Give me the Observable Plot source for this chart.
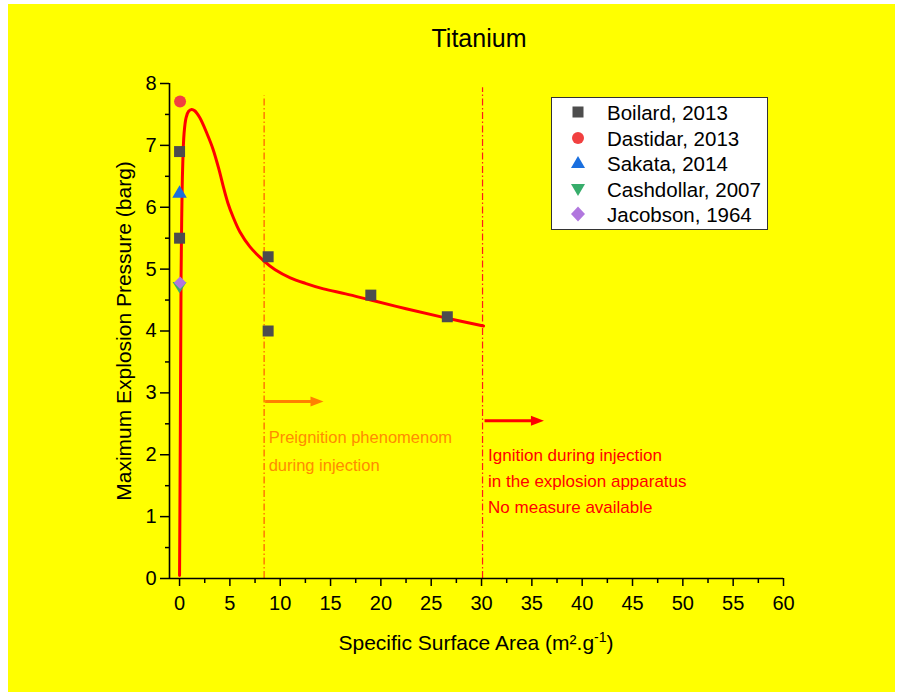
<!DOCTYPE html>
<html>
<head>
<meta charset="utf-8">
<script src="https://cdn.jsdelivr.net/npm/d3@7"></script>
<script src="https://cdn.jsdelivr.net/npm/@observablehq/plot@0.6"></script>
<style>
  html, body { margin: 0; padding: 0; background: #ffffff; width: 900px; height: 692px; overflow: hidden; }
  body { font-family: "Liberation Sans", Arial, Helvetica, sans-serif; position: relative; }
  #bg { position: absolute; left: 8px; top: 4px; width: 887px; height: 688px; background: #ffff00; }
  #chart { position: absolute; left: 0; top: 0; }
  #title { position: absolute; left: 329px; width: 300px; top: 23px; text-align: center; font-size: 25px; line-height: 30px; color: #000; }
  #xlabel { position: absolute; left: 226px; width: 500px; top: 630px; text-align: center; font-size: 21px; line-height: 26px; color: #000; }
  #xlabel sup { font-size: 14px; vertical-align: 8px; line-height: 0; }
  #legend { position: absolute; left: 551px; top: 97px; width: 215px; height: 131px; background: #fff; border: 1px solid #333; }
  .li { position: absolute; left: 0; height: 25px; width: 215px; font-size: 20.5px; line-height: 25px; color: #000; }
  .li svg { position: absolute; left: 16px; top: 2px; }
  .li span { position: absolute; left: 55px; top: 0; white-space: nowrap; }
</style>
</head>
<body>
<div id="bg"></div>
<div id="chart"></div>
<div id="title">Titanium</div>
<div id="xlabel">Specific Surface Area (m².g<sup>-1</sup>)</div>
<div id="legend"></div>
<script>
// ---- data ----
const boilardX = [0, 0, 8.8, 8.8, 19.0, 26.6];
const boilardY = [6.9, 5.5, 5.2, 4.0, 4.58, 4.23];
const dastidarX = [0.05];
const dastidarY = [7.71];
const sakataX = [0];
const sakataY = [6.22];
const cashdollarX = [0];
const cashdollarY = [4.73];
const jacobsonX = [0.05];
const jacobsonY = [4.78];

// red fitted curve
const fitX = [0.0, 0.08, 0.15, 0.22, 0.3, 0.45, 0.65, 0.9, 1.2, 1.5, 2.0, 2.75, 3.3, 3.9, 4.4, 4.8, 5.3, 6.0, 7.0, 8.4, 9.5, 11.0, 12.5, 14.3, 16.5, 19.0, 22.5, 26.2, 30.2];
const fitY = [0.05, 2.5, 4.9, 5.9, 6.6, 7.2, 7.45, 7.55, 7.58, 7.56, 7.45, 7.18, 6.95, 6.62, 6.3, 6.07, 5.85, 5.6, 5.36, 5.13, 4.99, 4.86, 4.77, 4.68, 4.6, 4.5, 4.36, 4.22, 4.08];

// vertical dash-dot boundaries
const boundX = [8.4, 30.1];
const boundTop = [7.8, 7.93];
const boundColor = ["#ff5a00", "#ff1a1a"];

// arrows
const arrowX1 = [8.5, 30.3];
const arrowX2 = [14.3, 36.2];
const arrowY = [2.86, 2.55];
const arrowColor = ["#ff8000", "#ff0000"];

// annotations
const noteX = [8.85, 8.85, 30.65, 30.65, 30.65];
const noteY = [2.27, 1.83, 1.99, 1.57, 1.15];
const noteText = ["Preignition phenomenom", "during injection", "Ignition during injection", "in the explosion apparatus", "No measure available"];
const noteColor = ["#ff8c00", "#ff8c00", "#ff0000", "#ff0000", "#ff0000"];
const noteSize = [16.5, 16.5, 17, 17, 17];

// axis ticks
const xTicks = d3.range(0, 61, 5);
const xMinor = d3.range(2.5, 60, 5);
const yTicks = d3.range(0, 9, 1);
const yMinor = d3.range(0.5, 8, 1);

// legend
const seriesNames = ["Boilard, 2013", "Dastidar, 2013", "Sakata, 2014", "Cashdollar, 2007", "Jacobson, 1964"];
const seriesColors = ["#4d4d4d", "#f14040", "#1a6fdf", "#37ad6b", "#b177de"];

// ---- custom symbols ----
const triDown = { draw(ctx, size) { const r = Math.sqrt(size / Math.PI); const w = r * 1.3, h = r * 1.15; ctx.moveTo(-w, -h * 0.6); ctx.lineTo(w, -h * 0.6); ctx.lineTo(0, h * 1.2); ctx.closePath(); } };
const headRight = { draw(ctx, size) { ctx.moveTo(0, 0); ctx.lineTo(-13, -5); ctx.lineTo(-13, 5); ctx.closePath(); } };

const rows = (xs, ys) => xs.map((x, i) => ({x, y: ys[i]}));
const fit = rows(fitX, fitY);
const bounds = boundX.map((x, i) => ({x, top: boundTop[i], c: boundColor[i]}));
const arrows = arrowX1.map((x1, i) => ({x1, x2: arrowX2[i], y: arrowY[i], c: arrowColor[i]}));
const notes = noteText.map((t, i) => ({x: noteX[i], y: noteY[i], t, c: noteColor[i], s: noteSize[i]}));

const plot = Plot.plot({
  width: 900,
  height: 692,
  marginLeft: 169,
  marginRight: 117,
  marginTop: 83,
  marginBottom: 114,
  style: { background: "transparent", fontFamily: "Liberation Sans, Arial, sans-serif", color: "#000", overflow: "visible" },
  x: { domain: [-1, 60], axis: null },
  y: { domain: [0, 8], axis: null },
  marks: [
    // boundaries
    Plot.ruleX(bounds, { x: "x", y1: 0, y2: "top", stroke: d => d.c, strokeWidth: 1.2, strokeDasharray: "7,2.5,1.5,2.5" }),
    // axes lines
    Plot.ruleY([0], { x1: -1, x2: 60, stroke: "#000", strokeWidth: 1.6 }),
    Plot.ruleX([-1], { y1: 0, y2: 8, stroke: "#000", strokeWidth: 1.6 }),
    Plot.axisX(xTicks, { tickSize: 8, strokeWidth: 1.5, fontSize: 20, tickPadding: 9, tickFormat: d => d, label: null }),
    Plot.axisX(xMinor, { tickSize: 5, strokeWidth: 1.5, tickFormat: () => "", label: null }),
    Plot.axisY(yTicks, { tickSize: 9, strokeWidth: 1.5, fontSize: 20, tickPadding: 4, tickFormat: d => d, label: null }),
    Plot.axisY(yMinor, { tickSize: 4, strokeWidth: 1.5, tickFormat: () => "", label: null }),
    Plot.text(["Maximum Explosion Pressure (barg)"], { frameAnchor: "left", dx: -45, rotate: -90, fontSize: 21, fill: "#000", textAnchor: "middle" }),
    // arrows
    Plot.link(arrows, { x1: "x1", x2: d => d.x2 - 0.6, y1: "y", y2: "y", stroke: d => d.c, strokeWidth: 3 }),
    Plot.dot(arrows, { x: "x2", y: "y", fill: d => d.c, stroke: "none", symbol: headRight, r: 5 }),
    // notes
    Plot.text(notes.slice(0, 2), { x: "x", y: "y", text: "t", fill: d => d.c, textAnchor: "start", fontSize: noteSize[0] }),
    Plot.text(notes.slice(2), { x: "x", y: "y", text: "t", fill: d => d.c, textAnchor: "start", fontSize: noteSize[2] }),
    // fitted curve
    Plot.line(fit, { x: "x", y: "y", stroke: "#ff0000", strokeWidth: 3, curve: "catmull-rom" }),
    // data points
    Plot.dot(rows(boilardX, boilardY), { x: "x", y: "y", symbol: "square", r: 6.2, fill: seriesColors[0], stroke: "none" }),
    Plot.dot(rows(dastidarX, dastidarY), { x: "x", y: "y", symbol: "circle", r: 6, fill: seriesColors[1], stroke: "none" }),
    Plot.dot(rows(sakataX, sakataY), { x: "x", y: "y", symbol: "triangle", r: 5.4, fill: seriesColors[2], stroke: "none" }),
    Plot.dot(rows(cashdollarX, cashdollarY), { x: "x", y: "y", symbol: triDown, r: 5.4, fill: seriesColors[3], stroke: "none" }),
    Plot.dot(rows(jacobsonX, jacobsonY), { x: "x", y: "y", symbol: "diamond2", r: 5.6, fill: seriesColors[4], stroke: "none" })
  ]
});
document.getElementById("chart").appendChild(plot);

// legend (HTML box with small svg symbols)
const legSymbols = [
  '<rect x="4.5" y="4.5" width="11" height="11"/>',
  '<circle cx="10" cy="10" r="6"/>',
  '<path d="M10,3 L17,15 L3,15 Z"/>',
  '<path d="M3,5 L17,5 L10,17 Z"/>',
  '<path d="M10,2.5 L17,10 L10,17.5 L3,10 Z"/>'
];
const legend = document.getElementById("legend");
seriesNames.forEach((name, i) => {
  const d = document.createElement("div");
  d.className = "li";
  d.style.top = (2 + i * 25.6) + "px";
  d.innerHTML = `<svg width="20" height="20" fill="${seriesColors[i]}">${legSymbols[i]}</svg><span>${name}</span>`;
  legend.appendChild(d);
});
</script>
</body>
</html>
